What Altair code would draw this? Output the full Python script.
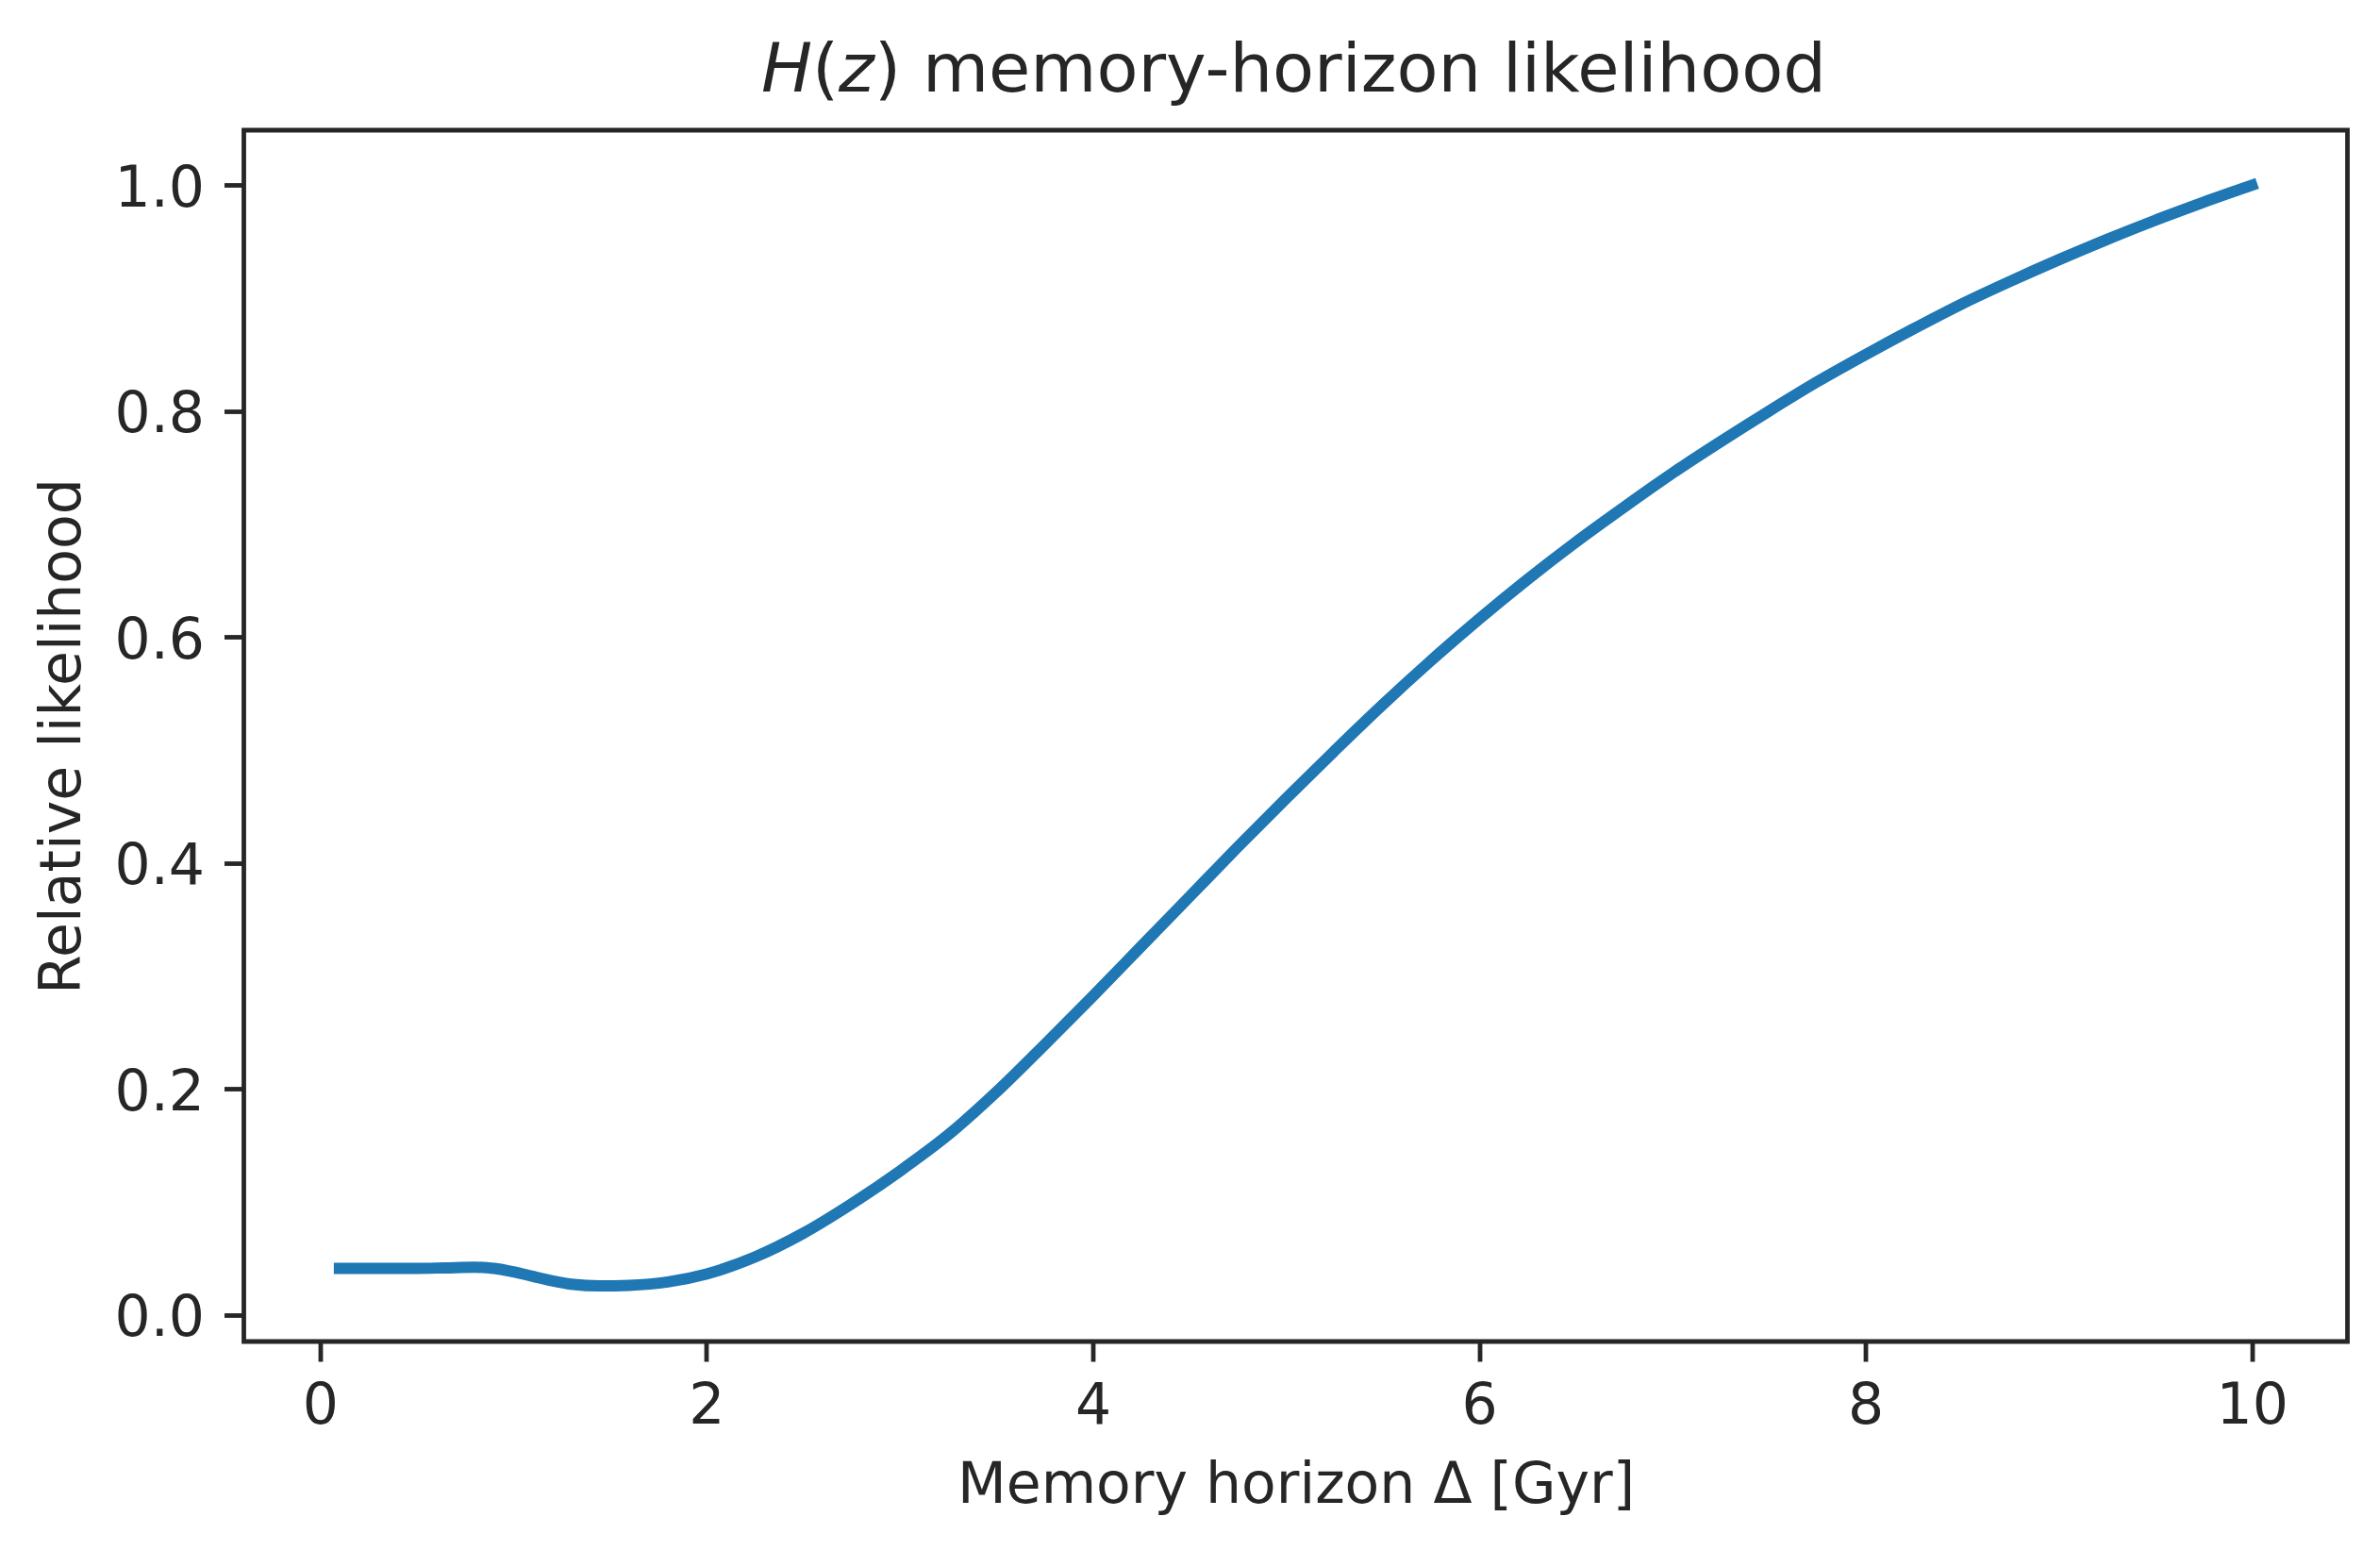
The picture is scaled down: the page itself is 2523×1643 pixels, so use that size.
import altair as alt
import pandas as pd

# ---- data ----
horizon_gyr = [0.1, 0.3, 0.5, 0.65, 0.8, 0.9, 1.0, 1.1, 1.2, 1.3, 1.45, 1.6, 1.8, 2.0,
               2.25, 2.5, 2.75, 3.0, 3.25, 3.5, 3.75, 4.0, 4.25, 4.5, 4.75, 5.0, 5.25,
               5.5, 5.75, 6.0, 6.25, 6.5, 6.75, 7.0, 7.25, 7.5, 7.75, 8.0, 8.25, 8.5,
               8.75, 9.0, 9.25, 9.5, 9.75, 10.0]
likelihood = [0.041, 0.041, 0.041, 0.0415, 0.042, 0.041, 0.038, 0.034, 0.030, 0.027,
              0.0255, 0.026, 0.029, 0.036, 0.051, 0.072, 0.098, 0.127, 0.159, 0.197,
              0.239, 0.282, 0.326, 0.370, 0.414, 0.457, 0.499, 0.540, 0.579, 0.616,
              0.651, 0.684, 0.715, 0.745, 0.773, 0.800, 0.826, 0.850, 0.873, 0.895,
              0.915, 0.934, 0.952, 0.969, 0.985, 1.0]
x_ticks = [0, 2, 4, 6, 8, 10]
y_ticks = [0.0, 0.2, 0.4, 0.6, 0.8, 1.0]
title_parts = ["H", "(", "z", ") memory-horizon likelihood"]
title_italic = [True, False, True, False]
x_title = "Memory horizon \u0394 [Gyr]"
y_title = "Relative likelihood"

df = pd.DataFrame({"x": horizon_gyr, "y": likelihood})

INK = "#262626"
FONT = "DejaVu Sans"
W, H = 2230, 1284

line = alt.Chart(df).mark_line(
    color="#1f77b4", strokeWidth=12, strokeCap="square", interpolate="monotone"
).encode(
    x=alt.X("x:Q",
            scale=alt.Scale(domain=[-0.395, 10.495], nice=False, zero=False),
            axis=alt.Axis(values=x_ticks, format="d", title=x_title,
                          titleX=W / 2, titleY=170, titleAlign="center",
                          titleBaseline="alphabetic", labelPadding=18)),
    y=alt.Y("y:Q",
            scale=alt.Scale(domain=[-0.02375, 1.04875], nice=False, zero=False),
            axis=alt.Axis(values=y_ticks, format=".1f", title=y_title,
                          titleX=-174.5, titleY=H / 2, titleAngle=270,
                          titleAlign="center", titleBaseline="alphabetic",
                          labelPadding=21, labelOffset=4)),
)

# title pieces (mixed italic / upright, like the mathtext title)
title_x = [548.4, 602.5, 630.6, 668.4]
layers = [line]
for txt, ital, tx in zip(title_parts, title_italic, title_x):
    kw = dict(align="left", baseline="alphabetic", fontSize=72, font=FONT, color=INK)
    if ital:
        kw["fontStyle"] = "italic"
    layers.append(
        alt.Chart(pd.DataFrame({"t": [txt]})).mark_text(**kw).encode(
            text="t:N", x=alt.value(tx), y=alt.value(-41.3)
        )
    )

chart = alt.layer(*layers).properties(
    width=W, height=H,
    padding={"left": 250.5, "top": 130, "right": 20, "bottom": 200},
    autosize=alt.AutoSizeParams(type="none"),
    background="white",
).configure_view(
    stroke=INK, strokeWidth=4.8
).configure_axis(
    grid=False, domain=False,
    tickColor=INK, tickWidth=4.8, tickSize=21,
    labelFont=FONT, labelFontSize=60, labelColor=INK,
    titleFont=FONT, titleFontSize=60, titleColor=INK, titleFontWeight="normal",
)

chart.save("out.html", embed_options={"renderer": "svg", "actions": False})
